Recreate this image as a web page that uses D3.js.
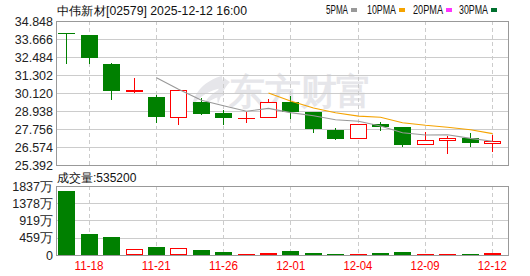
<!DOCTYPE html>
<html>
<head>
<meta charset="utf-8">
<script src="https://cdn.jsdelivr.net/npm/d3@7/dist/d3.min.js"></script>
<style>
  html, body { margin: 0; padding: 0; background: #fff; }
  svg { display: block; }
  text { font-family: "Liberation Sans", Arial, sans-serif; }
</style>
</head>
<body>
<div id="chart"></div>
<script>
const dates = ["11-17","11-18","11-19","11-20","11-21","11-24","11-25","11-26","11-27","11-28",
               "12-01","12-02","12-03","12-04","12-05","12-08","12-09","12-10","12-11","12-12"];
const open  = [34.04, 33.93, 32.02, 30.28, 29.86, 28.56, 29.53, 28.81, 28.47, 28.52,
               29.53, 28.87, 27.69, 27.15, 28.08, 27.89, 26.75, 27.05, 27.17, 26.86];
const close = [34.02, 32.44, 30.27, 30.30, 28.56, 30.30, 28.76, 28.50, 28.48, 29.53,
               28.89, 27.77, 27.12, 28.06, 27.90, 26.71, 27.03, 27.19, 26.86, 26.97];
const high  = [34.04, 33.93, 32.11, 31.12, 29.97, 30.30, 29.77, 29.00, 28.87, 29.75,
               29.92, 28.87, 27.84, 28.06, 28.22, 27.89, 27.56, 27.30, 27.49, 27.38];
const low   = [32.07, 32.11, 29.73, 30.21, 28.23, 28.06, 28.76, 28.08, 28.24, 28.52,
               28.50, 27.58, 27.12, 27.15, 27.71, 26.64, 26.75, 26.20, 26.64, 26.33];
// volume in 万 shares
const volume = [1704, 567, 479, 160, 221, 186, 141, 88, 27, 61,
                114, 61, 35, 35, 61, 88, 35, 35, 35, 53.52];
const ma5  = [null, null, null, null, 31.12, 30.37, 29.64, 29.28, 28.92, 29.11,
              28.83, 28.63, 28.36, 28.27, 27.95, 27.51, 27.36, 27.38, 27.14, 26.95];
const ma10 = [null, null, null, null, null, null, null, null, null, 30.12,
              29.60, 29.14, 28.82, 28.60, 28.53, 28.17, 28.00, 27.87, 27.71, 27.45];

const priceTicks = [25.392, 26.574, 27.756, 28.938, 30.120, 31.302, 32.484, 33.666, 34.848];
const volTicks = [0, 459, 919, 1378, 1837];
const dateTicks = ["11-18", "11-21", "11-26", "12-01", "12-04", "12-09", "12-12"];
const legendItems = ["5PMA", "10PMA", "20PMA", "30PMA"];
const legendColors = ["#999999", "#f5a300", "#ff33ff", "#00702e"];

const W = 530, H = 276;
const left = 56, right = 509;
const priceTop = 21, priceBottom = 165;
const volTop = 186, volBottom = 255;
const UP = "#ff0000", DOWN = "#008000";

const svg = d3.select("#chart").append("svg")
  .attr("width", W).attr("height", H);

const x = d3.scaleBand().domain(dates)
  .range([55.5, 503.5]).paddingInner(0.25).paddingOuter(0.125);
const bw = Math.round(x.bandwidth());
const cx = d => Math.round(x(d)) + Math.floor(bw / 2) + 0.5;

const yP = d3.scaleLinear().domain([25.392, 34.848]).range([priceBottom, priceTop]);
const yV = d3.scaleLinear().domain([0, 1837]).range([volBottom, volTop]);

// watermark
const wm = svg.append("g").attr("fill", "#e6e6ea");
wm.append("path")
  .attr("d", "M222,76 C206,80 194,92 192,106 C200,96 210,90 222,88 C214,92 206,98 203,106 C210,100 216,97 224,96 Z");
wm.append("path")
  .attr("d", "M224,78 C218,86 216,96 218,104 C221,96 224,88 230,82 Z");
wm.append("text")
  .attr("x", 229).attr("y", 104)
  .attr("font-family", "'Noto Sans CJK SC'")
  .attr("font-size", 36).attr("font-weight", "bold")
  .attr("textLength", 143).attr("lengthAdjust", "spacingAndGlyphs")
  .text("东方财富");

// grids
const grid = svg.append("g").attr("shape-rendering", "crispEdges");
grid.selectAll(".hp").data(priceTicks.slice(1, -1)).join("line")
  .attr("x1", left).attr("x2", right)
  .attr("y1", d => Math.round(yP(d)) + 0.5).attr("y2", d => Math.round(yP(d)) + 0.5)
  .attr("stroke", "#cccccc");
grid.selectAll(".hv").data(volTicks.slice(1, -1)).join("line")
  .attr("x1", left).attr("x2", right)
  .attr("y1", d => Math.round(yV(d)) + 0.5).attr("y2", d => Math.round(yV(d)) + 0.5)
  .attr("stroke", "#cccccc");
[[priceTop, priceBottom], [volTop, volBottom]].forEach(([t, b]) => {
  grid.append("g").selectAll("line").data(dateTicks).join("line")
    .attr("x1", cx).attr("x2", cx)
    .attr("y1", t).attr("y2", b)
    .attr("stroke", "#cccccc").attr("stroke-dasharray", "4,3");
});

// candles
const candles = svg.append("g").attr("shape-rendering", "crispEdges");
dates.forEach((d, i) => {
  const up = close[i] > open[i];
  const col = up ? UP : DOWN;
  const bx = Math.round(x(d));
  const yt = Math.round(yP(Math.max(open[i], close[i])));
  const yb = Math.round(yP(Math.min(open[i], close[i])));
  candles.append("line")
    .attr("x1", cx(d)).attr("x2", cx(d))
    .attr("y1", Math.round(yP(high[i]))).attr("y2", Math.round(yP(low[i])) + 1)
    .attr("stroke", col);
  if (up) {
    if (yb - yt <= 1) {
      candles.append("rect").attr("x", bx).attr("y", yt).attr("width", bw).attr("height", Math.max(1, yb - yt + 1))
        .attr("fill", col);
    } else {
      candles.append("rect").attr("x", bx + 0.5).attr("y", yt + 0.5).attr("width", bw - 1).attr("height", yb - yt)
        .attr("fill", "#fff").attr("stroke", col);
    }
  } else {
    candles.append("rect").attr("x", bx).attr("y", yt).attr("width", bw).attr("height", Math.max(1, yb - yt))
      .attr("fill", col);
  }
});

// moving averages
const line = d3.line()
  .defined(v => v[1] != null)
  .x(v => cx(v[0]))
  .y(v => yP(v[1]));
[[ma5, "#999999"], [ma10, "#f5a300"]].forEach(([arr, col]) => {
  svg.append("path")
    .datum(dates.map((d, i) => [d, arr[i]]))
    .attr("fill", "none").attr("stroke", col).attr("stroke-width", 1.1)
    .attr("d", line);
});

// volume bars
const vols = svg.append("g").attr("shape-rendering", "crispEdges");
dates.forEach((d, i) => {
  const up = close[i] > open[i];
  const col = up ? UP : DOWN;
  const bx = Math.round(x(d));
  const yt = Math.round(yV(volume[i]));
  if (up && volBottom - yt > 2) {
    vols.append("rect").attr("x", bx + 0.5).attr("y", yt + 0.5).attr("width", bw - 1).attr("height", volBottom - yt - 1)
      .attr("fill", "#fff").attr("stroke", col);
  } else {
    vols.append("rect").attr("x", bx).attr("y", yt).attr("width", bw).attr("height", Math.max(1, volBottom - yt))
      .attr("fill", col);
  }
});

// frames
const frames = svg.append("g").attr("shape-rendering", "crispEdges")
  .attr("fill", "none").attr("stroke", "#999999");
frames.append("rect").attr("x", left + 0.5).attr("y", priceTop + 0.5)
  .attr("width", right - left - 1).attr("height", priceBottom - priceTop);
frames.append("rect").attr("x", left + 0.5).attr("y", volTop + 0.5)
  .attr("width", right - left - 1).attr("height", volBottom - volTop);

// axes
const axP = svg.append("g").attr("transform", `translate(${left},0)`)
  .call(d3.axisLeft(yP).tickValues(priceTicks).tickSize(0).tickPadding(3)
    .tickFormat(d3.format(".3f")));
const axV = svg.append("g").attr("transform", `translate(${left},0)`)
  .call(d3.axisLeft(yV).tickValues(volTicks).tickSize(0).tickPadding(3)
    .tickFormat(d => d === 0 ? "0" : d + "万"));
[axP, axV].forEach(a => {
  a.select(".domain").remove();
  a.selectAll("text").attr("font-size", 12.5).attr("fill", "#222")
    .attr("font-family", "'Liberation Sans', Arial, 'Noto Sans CJK SC', sans-serif");
});

const axX = svg.append("g").attr("transform", `translate(0,${volBottom})`)
  .call(d3.axisBottom(x).tickValues(dateTicks).tickSize(0).tickPadding(6));
axX.select(".domain").remove();
axX.selectAll("text").attr("font-size", 12).attr("fill", "#ff0000")
  .attr("font-family", "'Liberation Mono', monospace")
  .attr("textLength", 29).attr("lengthAdjust", "spacingAndGlyphs");

// title and labels
svg.append("text").attr("x", 57).attr("y", 15)
  .attr("font-family", "'Noto Sans CJK SC', sans-serif").attr("font-size", 12).attr("fill", "#111")
  .attr("textLength", 190).attr("lengthAdjust", "spacingAndGlyphs")
  .text("中伟新材[02579] 2025-12-12 16:00");

svg.append("text").attr("x", 57).attr("y", 182)
  .attr("font-family", "'Noto Sans CJK SC', sans-serif").attr("font-size", 12).attr("fill", "#111")
  .text("成交量:535200");

// legend
const legX = [326, 367, 413, 459];
const legW = [22, 29, 30, 29];
const leg = svg.append("g");
legendItems.forEach((t, i) => {
  leg.append("text").attr("x", legX[i]).attr("y", 14)
    .attr("font-family", "'Liberation Mono', monospace").attr("font-size", 12).attr("fill", "#111")
    .attr("textLength", legW[i]).attr("lengthAdjust", "spacingAndGlyphs")
    .text(t);
  leg.append("rect").attr("x", legX[i] + legW[i] + 3).attr("y", 8).attr("width", 6).attr("height", 4)
    .attr("fill", legendColors[i]);
});
</script>
</body>
</html>
